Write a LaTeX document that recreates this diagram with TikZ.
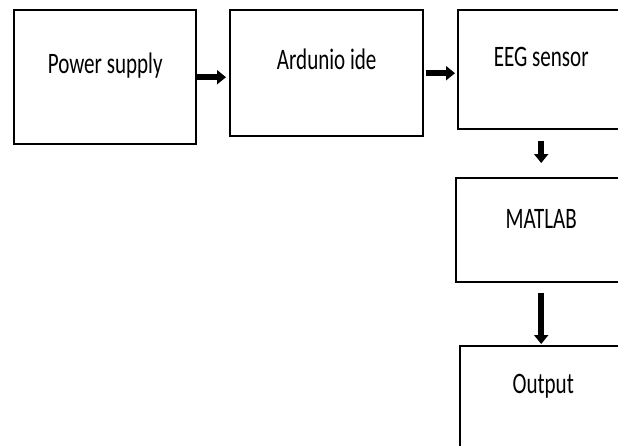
\documentclass[tikz,border=0pt]{standalone}
\usepackage{fontspec}
\setmainfont{Carlito}
\usepackage{graphicx}
\usetikzlibrary{arrows.meta}

\newcommand{\narrowtext}[1]{\scalebox{0.78}[1.1]{#1}}

\begin{document}
\begin{tikzpicture}[x=1pt, y=-1pt, line join=miter,
    blok/.style={draw, line width=2.4pt, inner sep=0pt, anchor=north west,
        font=\fontsize{27}{30}\selectfont},
    flow/.style={line width=5.5pt, -{Triangle[length=9pt, width=14pt]}}]
        % Canvas
        \clip (0,0) rectangle (618,445);

        % Blokken
        \node[blok, minimum width=182pt, text height=63pt, text depth=71pt] (power) at (13,9) {\narrowtext{Power supply}};
        \node[blok, minimum width=193pt, text height=59pt, text depth=67pt] (ardunio) at (229,9) {\narrowtext{Ardunio ide}};
        \node[blok, minimum width=166pt, text height=56pt, text depth=63pt] (eeg) at (457,9) {\narrowtext{EEG sensor}};
        \node[blok, minimum width=170pt, text height=50pt, text depth=54pt] (matlab) at (455,177) {\narrowtext{MATLAB}};
        \node[blok, minimum width=166pt, text height=47pt, text depth=73pt] (output) at (459,345) {\narrowtext{Output}};

        % Pijlen
        \draw[flow, shorten >=3pt] (power.east) -- (power.east -| ardunio.west);
        \draw[flow, shorten <=2pt, shorten >=2pt] (ardunio.east) -- (ardunio.east -| eeg.west);
        \draw[flow, shorten <=11pt, shorten >=14pt] (eeg.south) -- (eeg.south |- matlab.north);
        \draw[flow, shorten <=10pt, shorten >=1pt] (matlab.south) -- (matlab.south |- output.north);
      \end{tikzpicture}
\end{document}
